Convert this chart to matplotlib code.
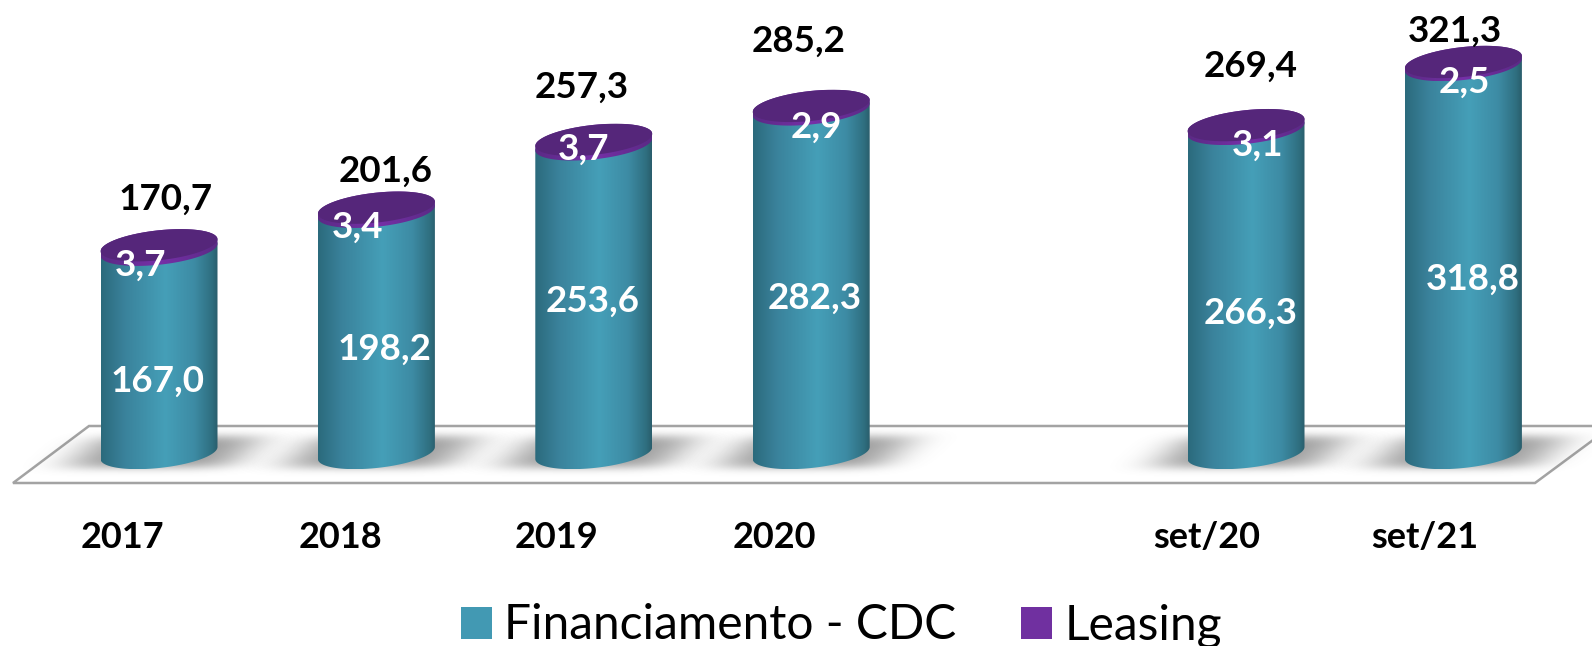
import numpy as np
import matplotlib
matplotlib.use('Agg')
import matplotlib.pyplot as plt
from matplotlib.colors import LinearSegmentedColormap
from matplotlib.patches import Patch, PathPatch, Polygon
from matplotlib.path import Path
from matplotlib.transforms import Affine2D

plt.rcParams['font.family'] = ['Lato', 'DejaVu Sans']

periods = ['2017', '2018', '2019', '2020', 'set/20', 'set/21']
positions = [0, 1, 2, 3, 5, 6]
cdc = [167.0, 198.2, 253.6, 282.3, 266.3, 318.8]
leasing = [3.7, 3.4, 3.7, 2.9, 3.1, 2.5]
totals = [170.7, 201.6, 257.3, 285.2, 269.4, 321.3]

# hand placed labels in the original, pixel centres from top left
total_xy = [(166, 199), (386, 171), (582, 87), (799, 41), (1251, 66), (1455, 31)]
cdc_xy = [(158, 381), (385, 349), (593, 301), (815, 298), (1251, 313), (1473, 279)]
leasing_xy = [(141, 265), (358, 227), (584, 149), (816, 127), (1258, 145), (1464, 82)]
period_xy = [(122, 537), (340, 537), (557, 537), (774, 537), (1207, 537), (1425, 537)]

W, H = 1592, 646
PX_X = 217.4   # pixels per position
PX_Y = 1.217   # pixels per unit
X0, Y0 = 159, 453
A, B, K = 58.5, 15, 6   # cylinder end ellipse, in pixels

fig = plt.figure(figsize=(W / 100, H / 100), dpi=100)
ax = fig.add_axes([0, 0, 1, 1])
ax.set_axis_off()
xlim = (-X0 / PX_X, (W - X0) / PX_X)
ylim = ((Y0 - H) / PX_Y, Y0 / PX_Y)
px = Affine2D().scale(1, -1).translate(0, H) # top left pixel coords

teal = LinearSegmentedColormap.from_list('teal', [
    (0, '#2b6a7c'), (0.2, '#3a829b'), (0.55, '#459fb8'),
    (0.8, '#3d8ba4'), (0.95, '#2f6f80'), (1, '#2a5e6c')])
purple = LinearSegmentedColormap.from_list('purple', ['#5b2a85', '#7630a8', '#5b2a85'])


def arc(cx, y, t0, t1):
    t = np.linspace(t0, t1, 60)
    return np.column_stack([cx + A * np.cos(t) / PX_X,
                            y + (K * np.cos(t) + B * np.sin(t)) / PX_Y])


def cylinder(cx, y0, y1, cmap):
    pts = np.vstack([arc(cx, y0, -np.pi, 0), arc(cx, y1, 0, np.pi)])
    clip = PathPatch(Path(pts), transform=ax.transData, fc='none', ec='none')
    ax.add_patch(clip)
    grad = np.linspace(0, 1, 256).reshape(1, -1)
    im = ax.imshow(grad, cmap=cmap, aspect='auto', zorder=3, interpolation='bilinear',
                   extent=(cx - A / PX_X, cx + A / PX_X, pts[:, 1].min(), pts[:, 1].max()))
    im.set_clip_path(clip)


def shadow(cx):
    xs = np.linspace(-170, 190, 360)
    ys = np.linspace(-45, 35, 80)
    dx, dy = np.meshgrid(xs, ys)
    sheared = dx + dy * 1.1 - 5
    alpha = np.exp(-(np.abs(sheared / 86) ** 4) - (np.abs(dy / 17) ** 4)) * 0.6
    rgba = np.zeros(dx.shape + (4,))
    rgba[..., :3] = 0.35
    rgba[..., 3] = alpha
    ax.imshow(rgba, aspect='auto', zorder=2, interpolation='bilinear',
              extent=(cx + xs[0] / PX_X, cx + xs[-1] / PX_X,
                      (Y0 - (452 + ys[-1])) / PX_Y, (Y0 - (452 + ys[0])) / PX_Y))


# floor
ax.add_patch(Polygon([(13, 483), (1535, 483), (1612, 426), (89, 426)], closed=True,
                     fc='white', ec='#a3a3a3', lw=1.8, transform=px, zorder=1))

for i, pos in enumerate(positions):
    shadow(pos)
    cylinder(pos, 0, cdc[i], teal)
    cylinder(pos, cdc[i], totals[i], purple)
    cap = arc(pos, totals[i], 0, 2 * np.pi)
    ax.add_patch(Polygon(cap, closed=True, fc='#55267a', ec='none', zorder=4))

for i in range(len(periods)):
    ax.text(*total_xy[i], f'{totals[i]:.1f}'.replace('.', ','), transform=px, ha='center',
            va='center', fontsize=26.5, fontweight='bold', color='black', zorder=5)
    ax.text(*cdc_xy[i], f'{cdc[i]:.1f}'.replace('.', ','), transform=px, ha='center',
            va='center', fontsize=26.5, fontweight='bold', color='white', zorder=5)
    ax.text(*leasing_xy[i], f'{leasing[i]:.1f}'.replace('.', ','), transform=px, ha='center',
            va='center', fontsize=26.5, fontweight='bold', color='white', zorder=5)
    ax.text(*period_xy[i], periods[i], transform=px, ha='center', va='center',
            fontsize=26, fontweight='bold', color='black', zorder=5)

handles = [Patch(fc='#4299b3', ec='none'), Patch(fc='#7030a0', ec='none')]
ax.legend(handles, ['Financiamento - CDC', 'Leasing'], ncol=2, frameon=False,
          loc='lower left', bbox_to_anchor=(461 / W, -0.003), bbox_transform=fig.transFigure,
          fontsize=34.5, handlelength=0.65, handleheight=0.65, handletextpad=0.25,
          columnspacing=1.35, borderpad=0, borderaxespad=0)

ax.set_xlim(xlim)
ax.set_ylim(ylim)
fig.savefig('out.png', dpi=100)
